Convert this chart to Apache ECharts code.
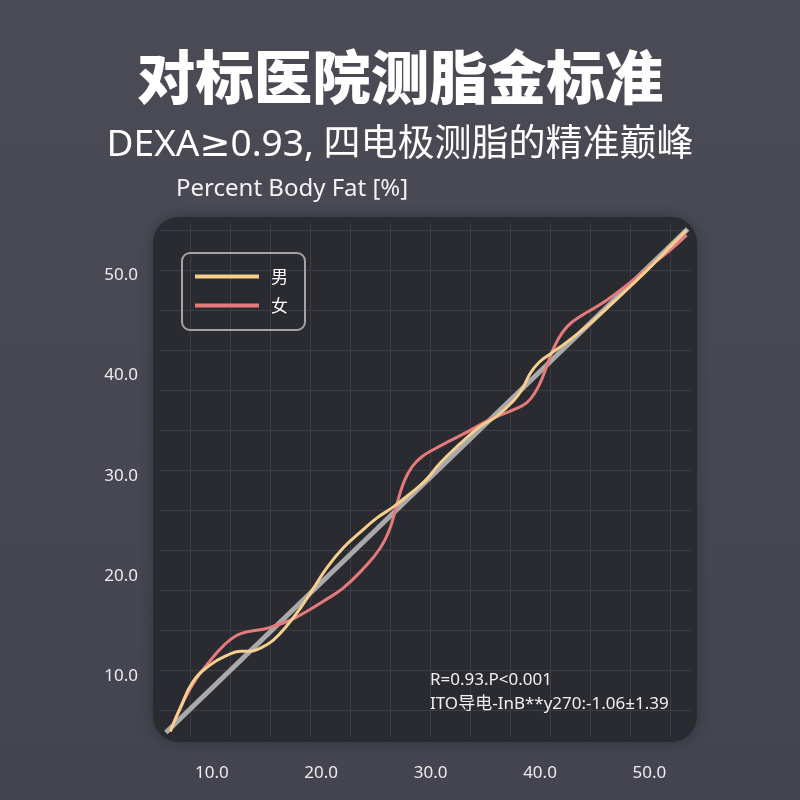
<!DOCTYPE html>
<html><head><meta charset="utf-8">
<script src="https://cdn.jsdelivr.net/npm/echarts@6/dist/echarts.min.js"></script>
<style>html,body{margin:0;padding:0;background:#45464f}#c{width:800px;height:800px}</style>
</head><body><div id="c"></div>
<script>
// ---- data ----
const xTickLabels = ['10.0', '20.0', '30.0', '40.0', '50.0'];
const yTickLabels = ['10.0', '20.0', '30.0', '40.0', '50.0'];
const tickValues = [10, 20, 30, 40, 50];
const seriesNames = ['男', '女'];

const refX = [5.8, 53.5];
const refY = [4.4, 54.6];

const maleX = [6.2, 7.1, 8.3, 9.8, 11.4, 12.6, 13.5, 14.4, 15.6, 16.9, 18.1, 19.3, 20.5, 22.0, 23.6, 25.1, 26.6, 28.1, 29.5, 30.9, 32.7, 34.5, 36.0, 37.6, 38.4, 39.1, 39.9, 41.0, 42.3, 43.6, 44.9, 47.3, 49.8, 51.6, 53.4];
const maleY = [4.5, 6.8, 9.5, 11.1, 12.1, 12.5, 12.5, 12.8, 13.6, 15.1, 16.8, 18.8, 20.8, 22.8, 24.4, 25.8, 26.9, 28.2, 29.5, 31.3, 33.2, 34.9, 35.9, 37.5, 38.7, 40.2, 41.3, 42.2, 43.2, 44.3, 45.5, 47.9, 50.5, 52.5, 54.5];

const femaleX = [6.2, 7.4, 8.6, 9.8, 11.1, 12.3, 13.5, 14.7, 15.9, 17.2, 18.7, 20.2, 22.0, 23.9, 25.4, 26.3, 27.0, 27.6, 28.3, 29.2, 30.4, 31.8, 33.4, 35.4, 37.6, 38.8, 39.6, 40.3, 40.9, 41.6, 42.5, 43.7, 46.1, 48.5, 50.4, 51.9, 53.4];
const femaleY = [4.5, 7.5, 9.8, 11.5, 13.1, 14.1, 14.5, 14.7, 15.1, 15.6, 16.5, 17.5, 18.8, 20.8, 22.8, 24.8, 27.5, 29.5, 30.9, 31.9, 32.7, 33.5, 34.4, 35.6, 36.6, 37.3, 38.4, 40.0, 41.8, 43.5, 44.9, 45.9, 47.5, 49.5, 51.2, 52.5, 54.0];

const zip = (xs, ys) => xs.map((x, i) => [x, ys[i]]);

const CJK = "'Noto Sans CJK SC', 'Noto Sans', sans-serif";
const LAT = "'Noto Sans', 'DejaVu Sans', 'Noto Sans CJK SC', sans-serif";
const chart = echarts.init(document.getElementById('c'), null, { renderer: 'canvas' });

const hiddenAxis = (extra) => Object.assign({
  type: 'value', show: true,
  axisLine: { show: false }, axisTick: { show: false }, axisLabel: { show: false },
  splitLine: { show: false }
}, extra);

const gridLineStyle = { color: '#3c3d45', width: 1 };

chart.setOption({
  backgroundColor: new echarts.graphic.LinearGradient(0, 0, 0, 1, [
    { offset: 0, color: '#4a4b55' }, { offset: 1, color: '#43444f' }
  ]),
  animation: false,
  graphic: [{
    type: 'rect', z: -10,
    shape: { x: 153, y: 217, width: 544, height: 525, r: 26 },
    style: { fill: '#2a2b30', shadowBlur: 14, shadowColor: 'rgba(0,0,0,0.28)' }
  }],
  title: [
    { text: '对标医院测脂金标准', left: 'center', top: 48, padding: 0,
      textStyle: { color: '#ffffff', fontSize: 58.5, fontWeight: 900, fontFamily: CJK } },
    { text: 'DEXA≥0.93, 四电极测脂的精准巅峰', left: 'center', top: 127, padding: 0,
      textStyle: { color: '#ffffff', fontSize: 37, fontWeight: 'normal', fontFamily: LAT } },
    { text: 'Percent Body Fat [%]', left: 176, top: 177, padding: 0,
      textStyle: { color: '#f2f2f2', fontSize: 24, fontWeight: 'normal', fontFamily: LAT } },
    { text: 'R=0.93.P<0.001\nITO导电-InB**y270:-1.06±1.39', left: 430, top: 668, padding: 0,
      textStyle: { color: '#f0f0f0', fontSize: 17, lineHeight: 24, fontWeight: 'normal', fontFamily: LAT } }
  ],
  legend: {
    data: seriesNames, orient: 'vertical', left: 182, top: 253,
    padding: [15, 17, 16, 13], itemGap: 12, itemWidth: 64, itemHeight: 4, icon: 'rect',
    borderColor: '#a3a3a3', borderWidth: 2, borderRadius: 8,
    textStyle: { color: '#ffffff', fontSize: 17, fontFamily: CJK, padding: [0, 0, 0, 7] }
  },
  grid: [
    { left: 102.4, right: 41.2, top: 174.9, bottom: 23.3 },
    { left: 150, width: 560, top: 223, height: 514 },
    { left: 160, width: 530, top: 190, height: 560 }
  ],
  xAxis: [
    { type: 'value', gridIndex: 0, min: 0, max: 60, interval: 10,
      axisLine: { show: false }, axisTick: { show: false }, splitLine: { show: false },
      axisLabel: { color: '#ececec', fontSize: 17, fontFamily: LAT, margin: -4, verticalAlign: 'middle',
        formatter: v => { const i = tickValues.indexOf(v); return i >= 0 ? xTickLabels[i] : ''; } } },
    hiddenAxis({ gridIndex: 1, min: 0, max: 560, interval: 40,
      splitLine: { show: true, showMinLine: false, showMaxLine: false, lineStyle: gridLineStyle } }),
    hiddenAxis({ gridIndex: 2, min: 0, max: 10 })
  ],
  yAxis: [
    { type: 'value', gridIndex: 0, min: 0, max: 60, interval: 10,
      axisLine: { show: false }, axisTick: { show: false }, splitLine: { show: false },
      axisLabel: { color: '#ececec', fontSize: 17, fontFamily: LAT, margin: -35.6,
        formatter: v => { const i = tickValues.indexOf(v); return i >= 0 ? yTickLabels[i] : ''; } } },
    hiddenAxis({ gridIndex: 1, min: 0, max: 10 }),
    hiddenAxis({ gridIndex: 2, min: 0, max: 560, interval: 40,
      splitLine: { show: true, showMinLine: false, showMaxLine: false, lineStyle: gridLineStyle } })
  ],
  series: [
    { type: 'line', name: 'ref', xAxisIndex: 0, yAxisIndex: 0, data: zip(refX, refY),
      symbol: 'none', lineStyle: { color: '#a9a9a9', width: 5, cap: 'butt' }, z: 2, silent: true },
    { type: 'line', name: seriesNames[1], data: zip(femaleX, femaleY), smooth: 0.45,
      symbol: 'none', color: '#e57a7c', lineStyle: { color: '#e57a7c', width: 3 }, z: 3 },
    { type: 'line', name: seriesNames[0], data: zip(maleX, maleY), smooth: 0.45,
      symbol: 'none', color: '#f6cf8f', lineStyle: { color: '#f6cf8f', width: 3 }, z: 4 }
  ]
});
</script></body></html>
